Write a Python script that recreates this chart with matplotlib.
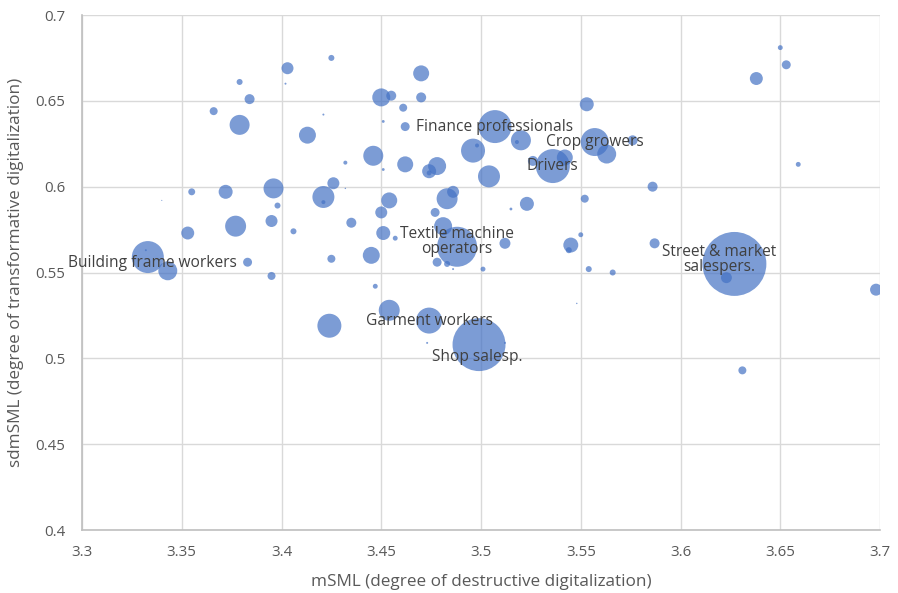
import matplotlib
matplotlib.use("Agg")
import matplotlib.pyplot as plt
from matplotlib.ticker import FuncFormatter, MultipleLocator

plt.rcParams['font.family'] = ['Open Sans', 'DejaVu Sans']

# occupation bubbles: mSML, sdmSML, employment weight
msml = [3.425, 3.403, 3.379, 3.402, 3.384, 3.366, 3.379, 3.421, 3.413, 3.446,
        3.432, 3.450, 3.396, 3.426, 3.421, 3.421, 3.355, 3.372, 3.432, 3.398,
        3.395, 3.377, 3.353, 3.406, 3.435, 3.425, 3.445, 3.447, 3.333, 3.332,
        3.343, 3.383, 3.395, 3.424, 3.340, 3.470, 3.455, 3.470, 3.461, 3.451,
        3.462, 3.507, 3.520, 3.518, 3.496, 3.498, 3.451, 3.462, 3.478, 3.474,
        3.474, 3.504, 3.536, 3.542, 3.526, 3.553, 3.557, 3.563, 3.576, 3.586,
        3.552, 3.523, 3.454, 3.450, 3.483, 3.486, 3.477, 3.481, 3.488, 3.451,
        3.457, 3.478, 3.483, 3.486, 3.501, 3.512, 3.515, 3.545, 3.544, 3.550,
        3.554, 3.566, 3.587, 3.454, 3.474, 3.499, 3.473, 3.512, 3.548, 3.627,
        3.623, 3.698, 3.631, 3.650, 3.653, 3.638, 3.659]
sdmsml = [0.675, 0.669, 0.661, 0.660, 0.651, 0.644, 0.636, 0.642, 0.630, 0.618,
          0.614, 0.652, 0.599, 0.602, 0.594, 0.591, 0.597, 0.597, 0.599, 0.589,
          0.580, 0.577, 0.573, 0.574, 0.579, 0.558, 0.560, 0.542, 0.559, 0.563,
          0.551, 0.556, 0.548, 0.519, 0.592, 0.666, 0.653, 0.652, 0.646, 0.638,
          0.635, 0.635, 0.627, 0.626, 0.621, 0.624, 0.610, 0.613, 0.612, 0.609,
          0.608, 0.606, 0.612, 0.617, 0.615, 0.648, 0.626, 0.619, 0.627, 0.600,
          0.593, 0.590, 0.592, 0.585, 0.593, 0.597, 0.585, 0.577, 0.565, 0.573,
          0.570, 0.556, 0.555, 0.552, 0.552, 0.567, 0.587, 0.566, 0.563, 0.572,
          0.552, 0.550, 0.567, 0.528, 0.522, 0.508, 0.509, 0.509, 0.532, 0.555,
          0.547, 0.540, 0.493, 0.681, 0.671, 0.663, 0.613]
emp = [9, 36, 9, 1, 25, 16, 100, 1, 72, 100,
       4, 81, 100, 36, 121, 4, 12, 49, 0.5, 9,
       36, 110, 42, 9, 25, 16, 72, 6, 256, 1,
       90, 20, 16, 144, 0.3, 64, 25, 25, 16, 2,
       20, 272, 100, 4, 144, 4, 2, 64, 81, 49,
       6, 121, 289, 64, 25, 49, 196, 90, 25, 25,
       16, 49, 64, 36, 110, 36, 20, 81, 400, 49,
       6, 20, 9, 1, 6, 30, 2, 56, 9, 6,
       9, 9, 25, 110, 169, 702, 1, 1, 0.5, 1024,
       30, 36, 16, 6, 20, 42, 6]

labels = {
    "Finance professionals": (3.507, 0.635, 0, 0),
    "Crop growers": (3.557, 0.626, 0, 0),
    "Drivers": (3.536, 0.612, 0, 0),
    "Textile machine\noperators": (3.488, 0.565, 0, 4),
    "Garment workers": (3.474, 0.522, 0, 0),
    "Shop salesp.": (3.499, 0.508, -1, -9),
    "Building frame workers": (3.333, 0.559, 3, -4),
    "Street & market\nsalespers.": (3.627, 0.555, -11, 3),
}

fig = plt.figure(figsize=(8.98, 5.93), dpi=100)
ax = fig.add_axes([0.0913, 0.1062, 0.8887, 0.8685])

sizes = [e * 2.07 for e in emp]
ax.scatter(msml, sdmsml, s=sizes, color='#4472C4', alpha=0.7,
           linewidths=0, zorder=3)

for text, (x, y, dx, dy) in labels.items():
    ax.annotate(text, (x, y), xytext=(dx, dy), textcoords='offset points',
                ha='center', va='center', fontsize=11.2, color='#404040',
                linespacing=0.9, zorder=4)

ax.set_xlim(3.3, 3.7)
ax.set_ylim(0.4, 0.7)
ax.xaxis.set_major_locator(MultipleLocator(0.05))
ax.yaxis.set_major_locator(MultipleLocator(0.05))
fmt = FuncFormatter(lambda v, p: f"{v:.2f}".rstrip('0').rstrip('.'))
ax.xaxis.set_major_formatter(fmt)
ax.yaxis.set_major_formatter(fmt)

ax.grid(True, color='#d9d9d9', linewidth=1, zorder=0)
ax.set_axisbelow(True)
for side in ['top', 'right']:
    ax.spines[side].set_visible(False)
for side in ['left', 'bottom']:
    ax.spines[side].set_color('#bfbfbf')
    ax.spines[side].set_linewidth(1.2)

ax.tick_params(axis='both', length=0, labelsize=10.8, labelcolor='#595959')
ax.tick_params(axis='x', pad=11)
ax.tick_params(axis='y', pad=12)

ax.set_xlabel('mSML (degree of destructive digitalization)', fontsize=12.3,
              color='#595959', labelpad=10)
ax.set_ylabel('sdmSML (degree of transformative digitalization)', fontsize=12.3,
              color='#595959', labelpad=8)

fig.savefig('out.png', dpi=100)
